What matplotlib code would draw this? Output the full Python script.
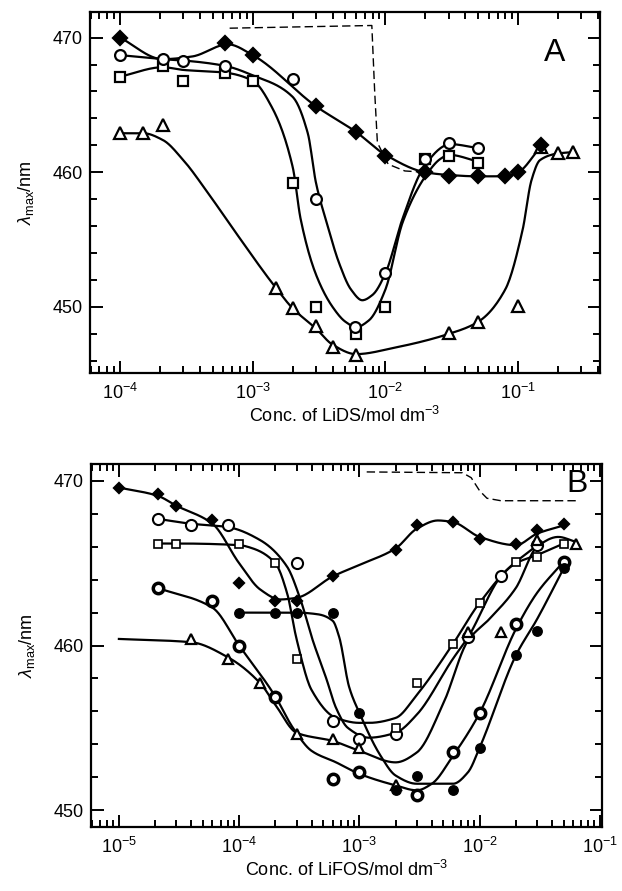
import numpy as np
import matplotlib
matplotlib.use("Agg")
import matplotlib.pyplot as plt
from matplotlib.ticker import LogLocator, MultipleLocator, FuncFormatter

plt.rcParams['font.family'] = ['Liberation Sans', 'DejaVu Sans']
plt.rcParams['mathtext.fontset'] = 'custom'
plt.rcParams['mathtext.rm'] = 'Liberation Sans'
plt.rcParams['mathtext.it'] = 'Liberation Sans:italic'

# ---------------- Panel A (LiDS) : measured points ----------------
a_dia_x = [1e-4, 6.2e-4, 1e-3, 3e-3, 6e-3, 1e-2, 2e-2, 3e-2, 5e-2, 8e-2, 0.1, 0.15]
a_dia_y = [470.0, 469.6, 468.7, 464.9, 463.0, 461.2, 460.0, 459.7, 459.7, 459.7, 460.0, 462.0]
a_cir_x = [1e-4, 2.1e-4, 3e-4, 6.2e-4, 2e-3, 3e-3, 5.9e-3, 1e-2, 2e-2, 3e-2, 5e-2]
a_cir_y = [468.7, 468.4, 468.3, 467.9, 466.9, 458.0, 448.5, 452.5, 461.0, 462.2, 461.8]
a_sq_x = [1e-4, 2.1e-4, 3e-4, 6.2e-4, 1e-3, 2e-3, 3e-3, 6e-3, 1e-2, 2e-2, 3e-2, 5e-2]
a_sq_y = [467.1, 467.9, 466.8, 467.4, 466.8, 459.2, 450.0, 448.0, 450.0, 461.0, 461.2, 460.7]
a_tri_x = [1e-4, 1.5e-4, 2.1e-4, 1.5e-3, 2e-3, 3e-3, 4e-3, 6e-3, 3e-2, 5e-2, 0.1, 0.15, 0.2, 0.26]
a_tri_y = [462.9, 462.9, 463.5, 451.4, 449.9, 448.6, 447.0, 446.4, 448.1, 448.9, 450.1, 461.9, 461.4, 461.5]

# Panel A : smooth guide curves
a_dia_cx = [1e-4, 2.1e-4, 3.5e-4, 6.5e-4, 1e-3, 3e-3, 6e-3, 1e-2, 2e-2, 3e-2, 5e-2, 8e-2, 0.1, 0.15]
a_dia_cy = [470.0, 468.4, 468.6, 469.5, 468.7, 464.9, 463.0, 461.3, 460.0, 459.8, 459.7, 459.7, 460.0, 462.0]
a_cir_cx = [1e-4, 2.1e-4, 3e-4, 6.2e-4, 1e-3, 2e-3, 2.6e-3, 3e-3, 3.6e-3, 4.5e-3, 5.5e-3, 6.7e-3, 8e-3, 1e-2, 1.34e-2, 1.9e-2, 2.7e-2, 3e-2, 5e-2]
a_cir_cy = [468.7, 468.4, 468.3, 467.9, 467.2, 465.6, 462.9, 459.2, 456.3, 453.2, 451.3, 450.5, 450.9, 452.5, 456.5, 460.2, 461.9, 462.1, 461.8]
a_sq_cx = [1e-4, 2.1e-4, 3e-4, 6.2e-4, 1e-3, 1.4e-3, 2e-3, 2.3e-3, 3e-3, 4e-3, 5e-3, 6e-3, 7.5e-3, 1e-2, 1.35e-2, 2e-2, 2.6e-2, 3e-2, 5e-2]
a_sq_cy = [467.1, 467.8, 467.6, 467.4, 466.8, 464.8, 460.4, 456.5, 452.4, 450.0, 448.9, 448.5, 449.0, 451.3, 456.3, 459.7, 461.0, 461.3, 460.8]
a_tri_cx = [1e-4, 1.5e-4, 2.1e-4, 3e-4, 4.5e-4, 7e-4, 1.5e-3, 2e-3, 3e-3, 4e-3, 6e-3, 1.2e-2, 3e-2, 5e-2, 8e-2, 0.108, 0.126, 0.146, 0.2, 0.26]
a_tri_cy = [462.9, 462.9, 462.4, 460.9, 458.6, 455.9, 451.4, 449.9, 448.4, 447.2, 446.5, 447.0, 448.0, 448.9, 451.3, 455.7, 459.4, 460.9, 461.4, 461.5]
a_dash_x = [6.7e-4, 7.9e-3, 8.3e-3, 8.7e-3, 1.05e-2, 1.4e-2, 2e-2]
a_dash_y = [470.7, 470.9, 466.0, 462.2, 460.6, 460.1, 460.0]

# ---------------- Panel B (LiFOS) : measured points ----------------
b_dia_x = [1e-5, 2.1e-5, 3e-5, 6e-5, 1e-4, 2e-4, 3e-4, 6e-4, 2e-3, 3e-3, 6e-3, 1e-2, 2e-2, 3e-2, 5e-2]
b_dia_y = [469.6, 469.2, 468.5, 467.6, 463.8, 462.7, 462.7, 464.2, 465.8, 467.3, 467.5, 466.5, 466.2, 467.0, 467.4]
b_oc_x = [2.1e-5, 4e-5, 8e-5, 3e-4, 6e-4, 1e-3, 2e-3, 8e-3, 1.5e-2, 3e-2]
b_oc_y = [467.7, 467.3, 467.3, 465.0, 455.4, 454.3, 454.6, 460.5, 464.2, 466.1]
b_sq_x = [2.1e-5, 3e-5, 1e-4, 2e-4, 3e-4, 2e-3, 3e-3, 6e-3, 1e-2, 2e-2, 3e-2, 5e-2]
b_sq_y = [466.2, 466.2, 466.2, 465.0, 459.2, 455.0, 457.7, 460.1, 462.6, 465.1, 465.4, 466.2]
b_tri_x = [4e-5, 8e-5, 1.5e-4, 3e-4, 6e-4, 1e-3, 2e-3, 8e-3, 1.5e-2, 3e-2, 6.3e-2]
b_tri_y = [460.4, 459.2, 457.7, 454.6, 454.3, 453.8, 451.5, 460.8, 460.8, 466.4, 466.2]
b_tc_x = [2.1e-5, 6e-5, 1e-4, 2e-4, 6e-4, 1e-3, 3e-3, 6e-3, 1e-2, 2e-2, 5e-2]
b_tc_y = [463.5, 462.7, 460.0, 456.9, 451.9, 452.3, 450.9, 453.5, 455.9, 461.3, 465.1]
b_fc_x = [1e-4, 2e-4, 3e-4, 6e-4, 1e-3, 2e-3, 3e-3, 6e-3, 1e-2, 2e-2, 3e-2, 5e-2]
b_fc_y = [462.0, 462.0, 462.0, 462.0, 455.9, 451.2, 452.1, 451.2, 453.8, 459.4, 460.9, 464.7]

# Panel B : smooth guide curves
b_dia_cx = [1e-5, 2.1e-5, 3e-5, 6e-5, 1e-4, 1.5e-4, 2.2e-4, 3e-4, 6e-4, 1e-3, 2e-3, 3e-3, 4.5e-3, 6e-3, 1e-2, 2e-2, 3e-2, 5e-2]
b_dia_cy = [469.6, 469.1, 468.5, 467.4, 465.0, 463.4, 462.8, 462.9, 464.2, 464.9, 465.9, 467.1, 467.6, 467.5, 466.6, 466.1, 466.8, 467.3]
b_oc_cx = [2.1e-5, 4e-5, 8e-5, 1.5e-4, 2.5e-4, 3.2e-4, 4.1e-4, 5.3e-4, 6.4e-4, 8e-4, 1.2e-3, 2e-3, 3e-3, 6e-3, 8e-3, 1.5e-2, 3e-2]
b_oc_cy = [467.7, 467.4, 467.2, 466.4, 464.8, 462.9, 460.3, 458.0, 456.2, 455.0, 454.4, 454.7, 455.8, 459.2, 460.5, 464.2, 466.1]
b_sq_cx = [2.1e-5, 3e-5, 1e-4, 1.3e-4, 2e-4, 2.5e-4, 3e-4, 4e-4, 6.4e-4, 1e-3, 1.2e-3, 2e-3, 3e-3, 6e-3, 1e-2, 2e-2, 3e-2, 5e-2]
b_sq_cy = [466.2, 466.2, 466.1, 465.9, 465.0, 463.2, 460.4, 457.3, 455.6, 455.3, 455.3, 455.6, 457.0, 460.1, 462.6, 465.0, 465.5, 466.2]
b_tri_cx = [1e-5, 4e-5, 8e-5, 1.5e-4, 2e-4, 3e-4, 6e-4, 1e-3, 2e-3, 3e-3, 5e-3, 8e-3, 1.2e-2, 2e-2, 3e-2, 4.5e-2, 6.3e-2]
b_tri_cy = [460.4, 460.2, 459.3, 457.7, 456.4, 454.7, 454.2, 453.6, 452.9, 453.5, 456.5, 460.3, 461.6, 463.5, 466.0, 466.6, 466.3]
b_tc_cx = [2.1e-5, 6e-5, 1e-4, 2e-4, 2.8e-4, 4e-4, 6.4e-4, 1e-3, 2e-3, 3e-3, 4e-3, 6e-3, 1e-2, 2e-2, 3e-2, 5e-2]
b_tc_cy = [463.5, 462.3, 460.0, 456.9, 455.0, 453.6, 452.9, 452.2, 451.5, 451.2, 451.6, 453.3, 455.9, 461.0, 463.2, 465.1]
b_fc_cx = [1e-4, 2e-4, 3e-4, 4.5e-4, 6e-4, 6.8e-4, 8.2e-4, 1e-3, 1.5e-3, 2e-3, 3e-3, 6e-3, 8e-3, 1e-2, 2e-2, 3e-2, 5e-2]
b_fc_cy = [462.0, 462.0, 462.0, 461.9, 461.5, 460.5, 457.5, 455.9, 453.3, 452.1, 451.6, 451.6, 452.3, 453.8, 459.4, 461.6, 464.7]
b_dash_x = [1.15e-3, 7.2e-3, 8.5e-3, 1.0e-2, 1.15e-2, 1.5e-2, 6.4e-2]
b_dash_y = [470.55, 470.5, 470.2, 469.4, 468.95, 468.8, 468.8]

xlabel_a = 'Conc. of LiDS/mol dm$^{-3}$'
xlabel_b = 'Conc. of LiFOS/mol dm$^{-3}$'
ylabel = r'$\lambda_{\rm max}$/nm'


def pchip(xk, yk, xq):
    xk = np.asarray(xk, float); yk = np.asarray(yk, float)
    h = np.diff(xk); d = np.diff(yk) / h
    n = len(xk); m = np.zeros(n)
    for k in range(1, n - 1):
        if d[k - 1] * d[k] > 0:
            w1 = 2 * h[k] + h[k - 1]; w2 = h[k] + 2 * h[k - 1]
            m[k] = (w1 + w2) / (w1 / d[k - 1] + w2 / d[k])
    m[0] = d[0]; m[-1] = d[-1]
    idx = np.clip(np.searchsorted(xk, xq) - 1, 0, n - 2)
    t = (xq - xk[idx]) / h[idx]
    h00 = 2 * t**3 - 3 * t**2 + 1; h10 = t**3 - 2 * t**2 + t
    h01 = -2 * t**3 + 3 * t**2; h11 = t**3 - t**2
    return h00 * yk[idx] + h10 * h[idx] * m[idx] + h01 * yk[idx + 1] + h11 * h[idx] * m[idx + 1]


def curve(ax, cx, cy, **kw):
    lx = np.log10(cx)
    q = np.linspace(lx[0], lx[-1], 400)
    ax.plot(10**q, pchip(lx, cy, q), color='black', lw=1.6, zorder=2, **kw)


def style(ax, xlim, ylim):
    ax.set_xscale('log')
    ax.set_xlim(*xlim); ax.set_ylim(*ylim)
    ax.xaxis.set_major_locator(LogLocator(base=10, numticks=20))
    ax.xaxis.set_minor_locator(LogLocator(base=10, subs=np.arange(2, 10), numticks=20))
    ax.xaxis.set_major_formatter(FuncFormatter(lambda v, p: '10$^{\u2212%d}$' % int(round(-np.log10(v)))))
    ax.yaxis.set_major_locator(MultipleLocator(10))
    ax.yaxis.set_minor_locator(MultipleLocator(2))
    ax.tick_params(which='both', direction='in', top=True, right=True, width=1.4, labelsize=13)
    ax.tick_params(which='major', length=9)
    ax.tick_params(axis='x', which='major', pad=7)
    ax.tick_params(axis='y', which='major', pad=5)
    ax.tick_params(which='minor', length=5)
    for s in ax.spines.values():
        s.set_linewidth(1.6)


fig = plt.figure(figsize=(6.22, 8.91), dpi=100)
axA = fig.add_axes([0.1447, 0.5814, 0.8199, 0.4051])
axB = fig.add_axes([0.1463, 0.0718, 0.8215, 0.4074])

# ---- Panel A ----
for cx, cy in [(a_dia_cx, a_dia_cy), (a_cir_cx, a_cir_cy), (a_sq_cx, a_sq_cy), (a_tri_cx, a_tri_cy)]:
    curve(axA, cx, cy)
axA.plot(a_dash_x, a_dash_y, color='black', lw=1.0, ls=(0, (6, 3)), zorder=1)
mk = dict(ls='none', mec='black', mew=1.6, zorder=3)
axA.plot(a_tri_x, a_tri_y, marker='^', ms=8, mfc='white', **mk)
axA.plot(a_sq_x, a_sq_y, marker='s', ms=7.5, mfc='white', **mk)
axA.plot(a_cir_x, a_cir_y, marker='o', ms=7.8, mfc='white', **mk)
axA.plot(a_dia_x, a_dia_y, marker='D', ms=7.5, mfc='black', **mk)
style(axA, (5.94e-5, 0.414), (445.1, 471.9))
axA.set_xlabel(xlabel_a, fontsize=13, labelpad=2)
axA.set_ylabel(ylabel, fontsize=13, labelpad=12)
axA.text(0.912, 0.886, 'A', transform=axA.transAxes, fontsize=23, ha='center', va='center')

# ---- Panel B ----
for cx, cy in [(b_dia_cx, b_dia_cy), (b_oc_cx, b_oc_cy), (b_sq_cx, b_sq_cy),
               (b_tri_cx, b_tri_cy), (b_tc_cx, b_tc_cy), (b_fc_cx, b_fc_cy)]:
    curve(axB, cx, cy)
axB.plot(b_dash_x, b_dash_y, color='black', lw=1.0, ls=(0, (6, 3)), zorder=1)
axB.plot(b_dia_x, b_dia_y, marker='D', ms=5, mfc='black', **mk)
axB.plot(b_oc_x, b_oc_y, marker='o', ms=8, mfc='white', ls='none', mec='black', mew=1.5, zorder=3)
axB.plot(b_sq_x, b_sq_y, marker='s', ms=5.2, mfc='white', ls='none', mec='black', mew=1.2, zorder=3)
axB.plot(b_tri_x, b_tri_y, marker='^', ms=7.5, mfc='white', **mk)
axB.plot(b_tc_x, b_tc_y, marker='o', ms=7.5, mfc='white', ls='none', mec='black', mew=2.5, zorder=3)
axB.plot(b_fc_x, b_fc_y, marker='o', ms=6.8, mfc='black', ls='none', mec='black', mew=1.0, zorder=3)
style(axB, (10**-5.232, 10**-0.983), (448.97, 471.03))
axB.set_xlabel(xlabel_b, fontsize=13, labelpad=2)
axB.set_ylabel(ylabel, fontsize=13, labelpad=12)
axB.text(0.951, 0.945, 'B', transform=axB.transAxes, fontsize=23, ha='center', va='center')

fig.savefig('out.png', dpi=100)
